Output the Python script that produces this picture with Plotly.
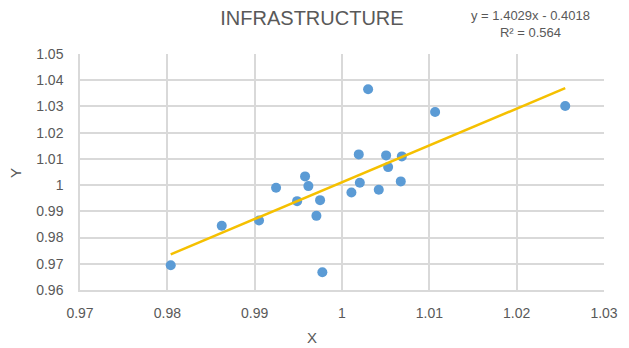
import plotly.graph_objects as go

x_values = [0.98039, 0.98623, 0.99050, 0.99245, 0.99486, 0.99577, 0.99615, 0.99707,
            0.99749, 0.99775, 1.00108, 1.00192, 1.00204, 1.00299, 1.00421, 1.00505,
            1.00528, 1.00673, 1.00685, 1.01066, 1.02556]
y_values = [0.96947, 0.98447, 0.98652, 0.99897, 0.99389, 1.00332, 0.99962, 0.98828,
            0.99427, 0.96679, 0.99721, 1.01172, 1.00088, 1.03653, 0.99821, 1.01134,
            1.00687, 1.00141, 1.01095, 1.02786, 1.03015]

slope = 1.4029
intercept = -0.4018
equation_text = "y = 1.4029x - 0.4018<br>R² = 0.564"

x_ticks = [0.97, 0.98, 0.99, 1.00, 1.01, 1.02, 1.03]
x_tick_labels = ["0.97", "0.98", "0.99", "1", "1.01", "1.02", "1.03"]
y_ticks = [0.96, 0.97, 0.98, 0.99, 1.00, 1.01, 1.02, 1.03, 1.04, 1.05]
y_tick_labels = ["0.96", "0.97", "0.98", "0.99", "1", "1.01", "1.02", "1.03", "1.04", "1.05"]

x_min, x_max = min(x_values), max(x_values)
trend_x = [x_min, x_max]
trend_y = [slope * v + intercept for v in trend_x]

FONT = "Liberation Sans"
GRAY = "#595959"

fig = go.Figure()
fig.add_trace(go.Scatter(x=x_values, y=y_values, mode="markers",
                         marker=dict(color="#5b9bd5", size=10), name="Data"))
fig.add_trace(go.Scatter(x=trend_x, y=trend_y, mode="lines",
                         line=dict(color="#f5c000", width=2.5), name="Trend"))

axis_common = dict(showgrid=True, gridcolor="#d9d9d9", gridwidth=1.5,
                   zeroline=False, showline=True, linecolor="#d9d9d9", linewidth=1.5,
                   ticks="", automargin=False, tickfont=dict(size=14, color=GRAY))

# the page body has an 8px margin, so the figure is drawn at (8, 8)
fig.update_layout(
    width=621, height=340,
    margin=dict(l=72, r=25, t=46, b=58, autoexpand=False),
    paper_bgcolor="white", plot_bgcolor="white",
    showlegend=False,
    font=dict(family=FONT, color=GRAY, size=14),
    title=dict(text="INFRASTRUCTURE", x=0.4895, xanchor="center", y=0.9706, yanchor="middle",
               automargin=False, font=dict(family=FONT, size=20, color=GRAY)),
    xaxis=dict(range=[0.97, 1.03], tickvals=x_ticks, ticktext=x_tick_labels,
               ticklabelstandoff=9, **axis_common),
    yaxis=dict(range=[0.96, 1.05], tickvals=y_ticks, ticktext=y_tick_labels,
               ticklabelstandoff=12, **axis_common),
    annotations=[
        dict(text=equation_text, xref="paper", yref="paper",
             x=0.859, y=1.127, xanchor="center", yanchor="middle",
             showarrow=False, align="center",
             font=dict(family=FONT, size=13, color=GRAY)),
        dict(text="X", xref="paper", yref="paper", x=0.443, y=-0.203,
             xanchor="center", yanchor="middle", showarrow=False,
             font=dict(family=FONT, size=15, color=GRAY)),
        dict(text="Y", xref="paper", yref="paper", x=-0.122, y=0.496,
             xanchor="center", yanchor="middle", showarrow=False, textangle=-90,
             font=dict(family=FONT, size=15, color=GRAY)),
    ],
)

fig.write_html("out.html")
